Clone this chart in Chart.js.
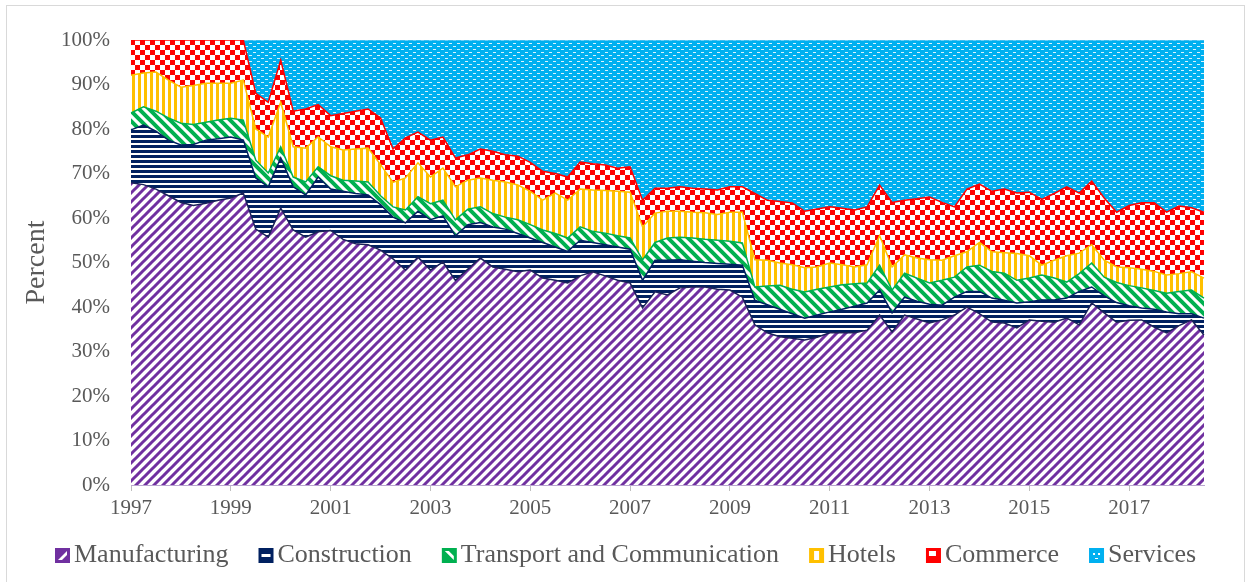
<!DOCTYPE html>
<html>
<head>
<meta charset="utf-8">
<script src="https://cdn.jsdelivr.net/npm/chart.js@4.4.1/dist/chart.umd.min.js"></script>
<style>
  html, body { margin: 0; padding: 0; background: #fff; }
  #wrap { width: 1251px; height: 582px; }
</style>
</head>
<body>
<div id="wrap"><canvas id="chart" width="1251" height="582"></canvas></div>
<script>
// Quarterly categories, 1997Q1 .. 2018Q3
const startYear = 1997;
const quarters = [];
for (let i = 0; i < 87; i++) {
    quarters.push((startYear + Math.floor(i / 4)) + 'Q' + (i % 4 + 1));
}

// Shares of each sector (percent)
const manufacturing = [67.9, 67.5, 66.5, 65.0, 63.5, 62.8, 63.3, 64.0, 64.5, 65.6,
    57.5, 55.7, 62.2, 57.3, 55.7, 56.9, 57.2, 55.2, 54.2, 54.0,
    52.8, 50.8, 48.3, 51.2, 48.3, 50.1, 46.0, 48.5, 51.0, 49.0,
    48.5, 47.9, 48.3, 46.5, 46.0, 45.4, 47.0, 47.9, 47.0, 46.0,
    45.4, 39.8, 43.4, 42.7, 44.3, 44.5, 44.5, 44.0, 43.8, 42.2,
    36.0, 34.2, 33.3, 33.0, 32.6, 33.2, 34.2, 34.2, 34.2, 34.8,
    38.2, 34.4, 38.2, 37.3, 36.4, 37.1, 38.2, 40.0, 38.5, 36.6,
    36.4, 35.3, 37.1, 36.8, 36.6, 37.5, 36.0, 40.9, 38.7, 36.6,
    37.0, 37.1, 35.5, 34.2, 35.8, 37.1, 33.7];
const construction = [11.9, 13.4, 13.0, 12.5, 12.9, 13.7, 14.2, 13.8, 13.7, 11.9,
    11.5, 11.3, 11.3, 9.7, 9.5, 12.3, 9.3, 10.8, 11.3, 11.2,
    10.2, 9.4, 10.6, 10.3, 11.3, 10.4, 10.0, 10.0, 8.0, 9.0,
    9.0, 8.6, 7.2, 8.0, 7.5, 7.1, 8.0, 6.6, 7.0, 7.5,
    7.6, 6.2, 7.1, 7.8, 6.3, 5.8, 5.5, 5.8, 5.8, 7.2,
    5.5, 6.3, 6.2, 5.5, 4.9, 5.0, 4.7, 5.3, 6.0, 6.1,
    5.6, 4.3, 4.0, 4.0, 4.2, 3.3, 4.0, 3.5, 5.0, 5.4,
    5.1, 5.6, 4.1, 4.8, 5.0, 4.5, 7.5, 3.6, 3.8, 4.4,
    3.3, 2.7, 4.0, 4.7, 2.7, 1.4, 3.8];
const transport = [3.8, 4.1, 4.5, 5.0, 4.9, 4.5, 4.0, 4.2, 4.2, 4.5,
    4.0, 3.1, 2.5, 2.2, 2.9, 2.3, 3.0, 2.5, 2.8, 2.9,
    2.0, 2.3, 2.9, 3.3, 3.6, 3.5, 3.6, 3.5, 3.5, 3.0,
    2.7, 3.1, 3.0, 2.8, 3.0, 3.0, 3.0, 2.5, 2.6, 2.5,
    2.5, 4.6, 4.0, 5.0, 5.1, 5.2, 5.2, 5.2, 5.2, 5.0,
    3.0, 4.2, 5.4, 5.5, 5.9, 5.8, 5.6, 5.5, 5.0, 4.5,
    5.6, 5.1, 5.4, 5.2, 4.8, 5.6, 4.5, 5.5, 5.9, 6.0,
    6.1, 5.1, 5.3, 5.6, 4.9, 3.6, 4.0, 5.4, 4.2, 4.5,
    4.5, 4.5, 4.2, 4.2, 5.0, 5.3, 4.5];
const hotels = [8.5, 7.6, 8.8, 8.5, 8.1, 8.8, 8.8, 8.3, 7.9, 9.0,
    7.0, 8.1, 10.0, 6.8, 7.6, 6.7, 6.5, 6.8, 7.2, 7.6,
    7.0, 5.5, 7.2, 7.6, 6.0, 7.2, 7.4, 6.5, 6.5, 7.5,
    7.9, 7.8, 7.5, 6.7, 9.1, 8.5, 8.5, 9.3, 9.6, 10.0,
    10.3, 7.4, 6.6, 6.0, 5.8, 5.8, 6.0, 5.8, 6.5, 6.9,
    6.1, 5.8, 5.0, 5.5, 5.4, 5.0, 5.4, 4.5, 3.8, 4.1,
    6.6, 5.2, 4.1, 4.5, 5.2, 4.5, 4.8, 3.4, 5.1, 4.4,
    4.6, 6.0, 5.0, 2.2, 4.0, 5.9, 4.6, 4.1, 3.8, 3.5,
    4.0, 4.2, 4.3, 4.1, 4.0, 4.1, 4.5];
const commerce = [7.9, 7.4, 7.2, 9.0, 10.6, 10.2, 9.7, 9.7, 9.7, 9.0,
    8.0, 7.8, 9.5, 8.0, 8.8, 7.3, 7.0, 8.2, 8.5, 8.8,
    10.5, 7.5, 9.0, 6.9, 8.3, 7.0, 6.5, 5.7, 6.5, 6.5,
    6.1, 6.5, 6.5, 6.5, 4.4, 5.2, 6.1, 5.9, 5.7, 5.2,
    5.7, 6.0, 5.6, 5.2, 5.5, 5.4, 5.3, 5.5, 5.7, 5.7,
    14.9, 13.5, 13.8, 13.9, 12.7, 13.0, 12.6, 12.7, 12.8, 13.0,
    11.4, 14.5, 12.3, 13.3, 14.1, 13.0, 11.0, 14.1, 13.1, 13.6,
    14.3, 13.6, 14.3, 14.8, 15.0, 15.5, 13.5, 14.3, 14.0, 12.3,
    14.0, 14.9, 15.4, 14.1, 15.2, 14.4, 14.8];
const services = [0, 0, 0, 0, 0, 0, 0, 0, 0, 0,
    12.0, 14.0, 4.5, 16.0, 15.5, 14.5, 17.0, 16.5, 16.0, 15.5,
    17.5, 24.5, 22.0, 20.7, 22.5, 21.8, 26.5, 25.8, 24.5, 25.0,
    25.8, 26.1, 27.5, 29.5, 30.0, 30.8, 27.4, 27.8, 28.1, 28.8,
    28.5, 36.0, 33.3, 33.3, 33.0, 33.3, 33.5, 33.7, 33.0, 33.0,
    34.5, 36.0, 36.3, 36.6, 38.5, 38.0, 37.5, 37.8, 38.2, 37.5,
    32.6, 36.5, 36.0, 35.7, 35.3, 36.5, 37.5, 33.5, 32.4, 34.0,
    33.5, 34.4, 34.2, 35.8, 34.5, 33.0, 34.4, 31.7, 35.5, 38.7,
    37.2, 36.6, 36.6, 38.7, 37.3, 37.7, 38.7];

const FONT = "'Liberation Serif', 'Times New Roman', serif";
const TEXT = '#595959';

const canvas = document.getElementById('chart');
const ctx = canvas.getContext('2d');

// Pattern tiles like the Excel fills
function makePattern(w, h, bg, draw) {
    const c = document.createElement('canvas');
    c.width = w; c.height = h;
    const g = c.getContext('2d');
    g.fillStyle = bg;
    g.fillRect(0, 0, w, h);
    draw(g);
    return ctx.createPattern(c, 'repeat');
}

const pManufacturing = makePattern(9, 9, '#fff', g => {
    g.strokeStyle = '#7030A0';
    g.lineWidth = 3;
    g.beginPath();
    g.moveTo(-1, 10); g.lineTo(10, -1);
    g.moveTo(-5.5, 5.5); g.lineTo(5.5, -5.5);
    g.moveTo(3.5, 14.5); g.lineTo(14.5, 3.5);
    g.stroke();
});
const pConstruction = makePattern(4, 5, '#fff', g => {
    g.fillStyle = '#002060';
    g.fillRect(0, 0, 4, 3);
});
const pTransport = makePattern(10, 10, '#fff', g => {
    g.strokeStyle = '#00B050';
    g.lineWidth = 4;
    g.beginPath();
    g.moveTo(-1, -1); g.lineTo(11, 11);
    g.moveTo(4, -6); g.lineTo(16, 6);
    g.moveTo(-6, 4); g.lineTo(6, 16);
    g.stroke();
});
const pHotels = makePattern(6, 4, '#fff', g => {
    g.fillStyle = '#FFC000';
    g.fillRect(0, 0, 3, 4);
});
const pCommerce = makePattern(10, 10, '#fff', g => {
    g.fillStyle = '#FF0000';
    g.fillRect(0, 0, 5, 5);
    g.fillRect(5, 5, 5, 5);
});
const pServices = makePattern(8, 6, '#00B0F0', g => {
    g.fillStyle = 'rgba(255,255,255,0.85)';
    g.fillRect(1, 1, 3, 1);
    g.fillRect(5, 4, 3, 1);
});

// Small legend swatches, drawn like the enlarged Excel pattern keys
const swatches = {
    Manufacturing(c, x, y, s) {
        c.fillStyle = '#7030A0'; c.fillRect(x, y, s, s);
        c.fillStyle = '#fff';
        c.beginPath();
        c.moveTo(x + 3, y + s - 3); c.lineTo(x + s - 3, y + 3); c.lineTo(x + s - 3, y + 7); c.lineTo(x + 7, y + s - 3);
        c.closePath(); c.fill();
    },
    Construction(c, x, y, s) {
        c.fillStyle = '#002060'; c.fillRect(x, y, s, s);
        c.fillStyle = '#fff'; c.fillRect(x + 3, y + 6, s - 6, 3);
    },
    'Transport and Communication'(c, x, y, s) {
        c.fillStyle = '#00B050'; c.fillRect(x, y, s, s);
        c.fillStyle = '#fff';
        c.beginPath();
        c.moveTo(x + 3, y + 3); c.lineTo(x + 7, y + 3); c.lineTo(x + s - 3, y + s - 7); c.lineTo(x + s - 3, y + s - 3);
        c.closePath(); c.fill();
    },
    Hotels(c, x, y, s) {
        c.fillStyle = '#FFC000'; c.fillRect(x, y, s, s);
        c.fillStyle = '#fff'; c.fillRect(x + 5, y + 3, 5, s - 6);
    },
    Commerce(c, x, y, s) {
        c.fillStyle = '#FF0000'; c.fillRect(x, y, s, s);
        c.fillStyle = '#fff'; c.fillRect(x + 3, y + 3, 7, 5);
    },
    Services(c, x, y, s) {
        c.fillStyle = '#00B0F0'; c.fillRect(x, y, s, s);
        c.fillStyle = '#fff';
        c.fillRect(x + 4, y + 5, 2, 2); c.fillRect(x + 9, y + 5, 2, 2); c.fillRect(x + 6, y + 10, 3, 1);
    }
};

const series = [
    { label: 'Manufacturing', data: manufacturing, bg: pManufacturing, line: '#1B2259' },
    { label: 'Construction', data: construction, bg: pConstruction, line: '#002060' },
    { label: 'Transport and Communication', data: transport, bg: pTransport, line: '#00B050' },
    { label: 'Hotels', data: hotels, bg: pHotels, line: '#FFC000' },
    { label: 'Commerce', data: commerce, bg: pCommerce, line: '#FF0000' },
    { label: 'Services', data: services, bg: pServices, line: '#4FC3F0' }
];

const framePlugin = {
    id: 'frame',
    beforeDraw(chart) {
        const c = chart.ctx;
        c.save();
        c.fillStyle = '#fff';
        c.fillRect(0, 0, chart.width, chart.height);
        c.strokeStyle = '#D9D9D9';
        c.lineWidth = 1;
        c.strokeRect(6.5, 5.5, 1238, 600);
        c.restore();
    }
};

// Legend row drawn under the axis, tight box-to-text gap like Excel
const legendPlugin = {
    id: 'sectorLegend',
    afterDraw(chart) {
        const c = chart.ctx;
        const box = 15, gapText = 4, gapItem = 30, midY = 555;
        c.save();
        c.font = '26px ' + FONT;
        c.textBaseline = 'middle';
        c.textAlign = 'left';
        const labels = chart.data.datasets.map(d => d.label);
        const widths = labels.map(t => c.measureText(t).width);
        let total = 0;
        widths.forEach((w, i) => { total += box + gapText + w + (i ? gapItem : 0); });
        let x = Math.round(chart.width / 2 - total / 2);
        labels.forEach((t, i) => {
            swatches[t](c, x, midY - 7, box);
            c.fillStyle = TEXT;
            c.fillText(t, x + box + gapText, midY);
            x += box + gapText + widths[i] + gapItem;
        });
        c.restore();
    }
};

new Chart(ctx, {
    type: 'line',
    data: {
        labels: quarters,
        datasets: series.map((s, i) => ({
            label: s.label,
            data: s.data,
            backgroundColor: s.bg,
            borderColor: s.line,
            borderWidth: 1.5,
            pointRadius: 0,
            tension: 0,
            fill: i === 0 ? 'origin' : '-1'
        }))
    },
    options: {
        responsive: false,
        animation: false,
        layout: { padding: { left: 8, right: 47, top: 40, bottom: 52 } },
        plugins: {
            tooltip: { enabled: false },
            legend: { display: false }
        },
        scales: {
            x: {
                stacked: true,
                afterFit(scale) { scale.height = 45; },
                grid: {
                    drawOnChartArea: false,
                    drawTicks: true,
                    tickLength: 6,
                    color: c => (c.index % 8 === 0 ? '#BFBFBF' : 'rgba(0,0,0,0)')
                },
                border: { display: true, color: '#B9A6CF' },
                ticks: {
                    autoSkip: false,
                    maxRotation: 0,
                    padding: 5,
                    color: TEXT,
                    font: { family: FONT, size: 21 },
                    callback: (v, i) => (i % 8 === 0 ? String(startYear + i / 4) : '')
                }
            },
            y: {
                stacked: true,
                min: 0,
                max: 100,
                afterFit(scale) { scale.width = 123; },
                grid: { display: false, drawTicks: false },
                border: { display: true, color: '#B9A6CF' },
                ticks: {
                    stepSize: 10,
                    padding: 21,
                    color: TEXT,
                    font: { family: FONT, size: 21 },
                    callback: v => v + '%'
                },
                title: {
                    display: true,
                    text: 'Percent',
                    color: TEXT,
                    font: { family: FONT, size: 28 },
                    padding: { top: 12, bottom: 0 }
                }
            }
        }
    },
    plugins: [framePlugin, legendPlugin]
});
</script>
</body>
</html>
